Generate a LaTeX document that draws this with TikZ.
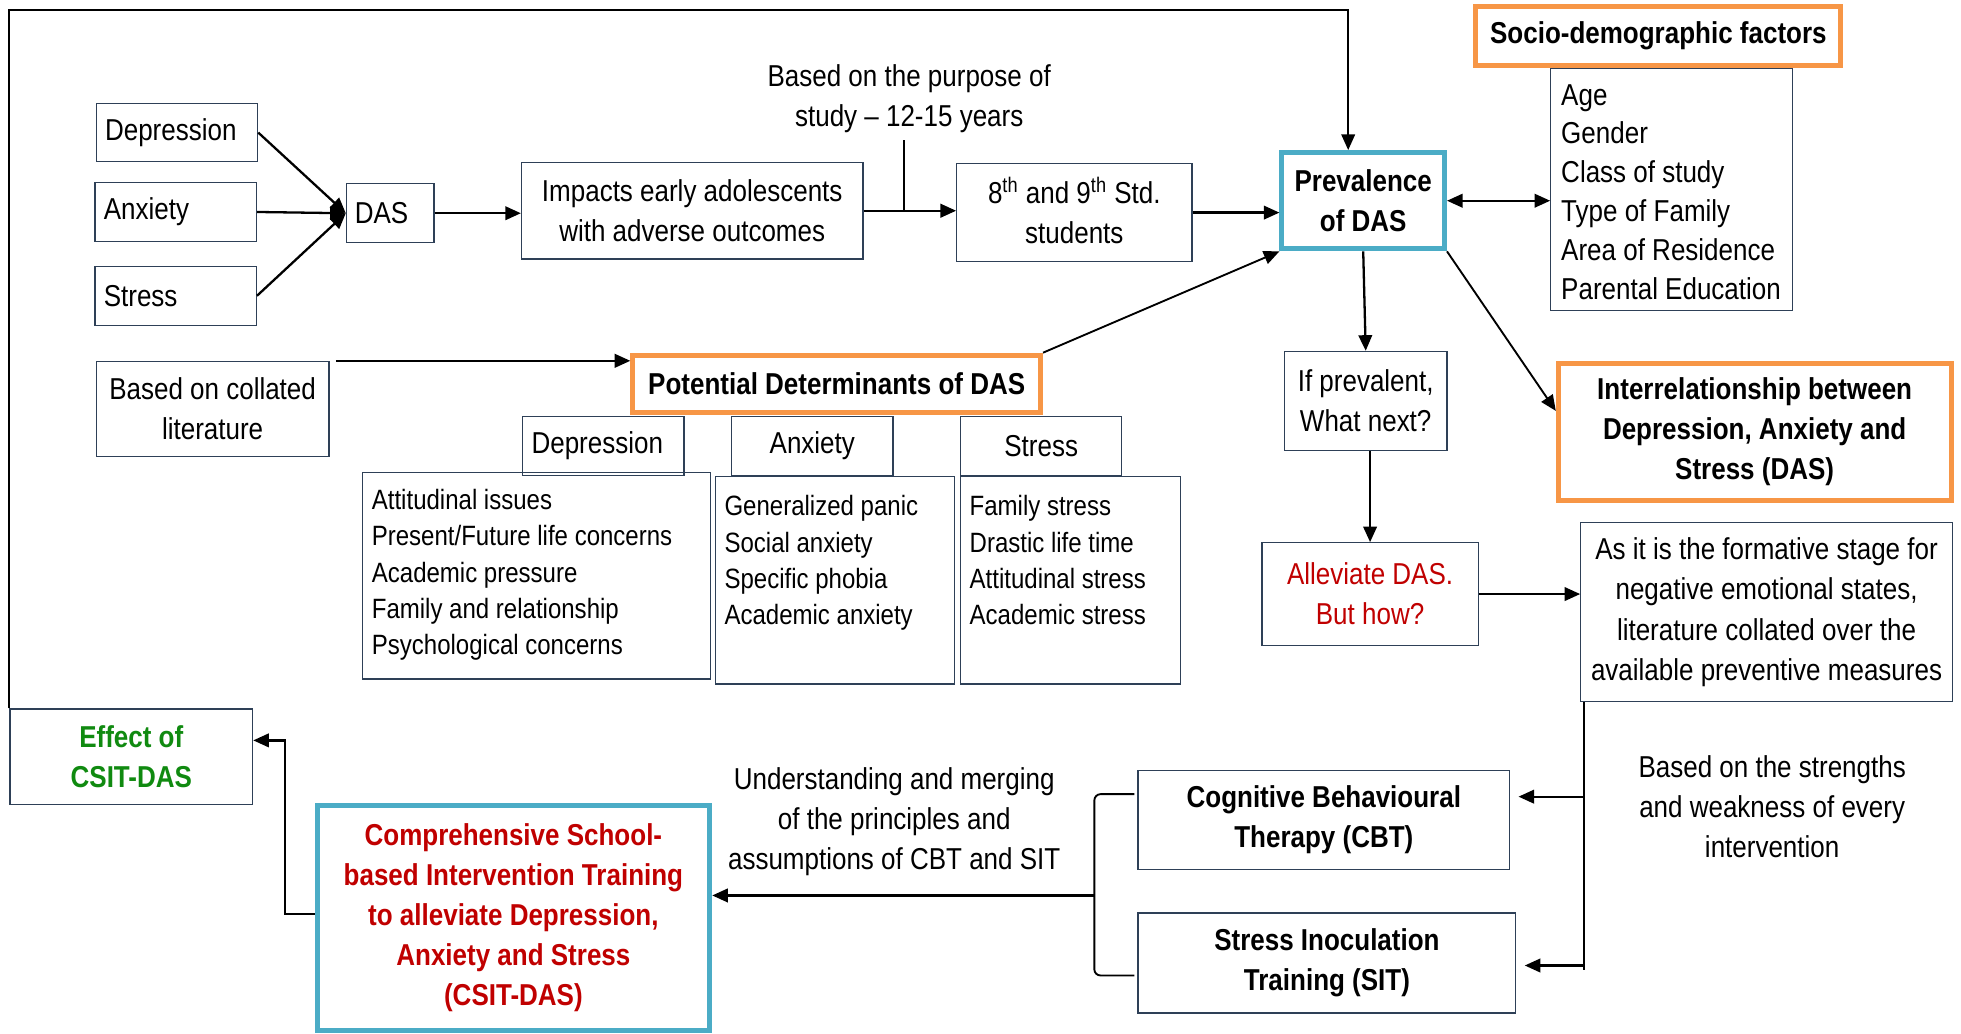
\documentclass[tikz,border=0pt]{standalone}
\usepackage{fontspec}
\setmainfont{Liberation Sans}[FakeStretch=0.86]
\usetikzlibrary{arrows.meta,calc}
\definecolor{edgec}{HTML}{2E4057}
\definecolor{orng}{HTML}{F79646}
\definecolor{blu}{HTML}{4BACC6}
\definecolor{redt}{HTML}{C00000}
\definecolor{grnt}{HTML}{108A10}
\newcommand\myfs{\fontsize{14.5pt}{19.2pt}\selectfont}
\newcommand\listfs{\fontsize{13.4pt}{17.4pt}\selectfont}
\newcommand\supx[1]{\smash{\textsuperscript{#1}}}
\begin{document}
\begin{tikzpicture}[x=0.6pt,y=-0.6pt,
 every node/.style={font=\myfs, inner sep=0pt},
 sz/.style 2 args={minimum width=#1*0.6pt, minimum height=#2*0.6pt},
 box/.style={draw=edgec, line width=0.6pt, align=center},
 obox/.style={draw=orng, line width=2.4pt, align=center, font=\myfs\bfseries},
 bbox/.style={draw=blu, line width=2.4pt, align=center, font=\myfs\bfseries},
 arr/.style={line width=1.1pt, -{Triangle[length=7.5pt,width=6.5pt]}},
 ln/.style={line width=1.1pt},
]
\path[use as bounding box] (0,0) rectangle (1568,826);

% top-left group
\node[box,sz={129}{46},text width=69pt,align=left] (dep) at (141.5,106) {Depression};
\node[box,sz={129}{47},text width=69pt,align=left] (anx) at (140.5,169.5) {Anxiety};
\node[box,sz={129}{47},text width=69pt,align=left] (str) at (140.5,236.5) {Stress};
\node[box,sz={70}{47},text width=34pt,align=left] (das) at (312,170.5) {DAS};
\node[box,sz={273}{77}] (imp) at (553.5,168.5) {Impacts early adolescents\\with adverse outcomes};
\node[align=center] (purp) at (727,79) {Based on the purpose of\\study – 12-15 years};
\node[box,sz={188}{78}] (std) at (859,170) {8\supx{th} and 9\supx{th} Std.\\students};
\node[bbox,sz={130}{77}] (prev) at (1090,160.5) {Prevalence\\of DAS};

% socio-demographic
\node[obox,sz={292}{47}] (soc) at (1326,28.5) {Socio-demographic factors};
\node[box,sz={193}{193}] (socl) at (1336.5,151.5) {};
\node[anchor=north west,align=left,font=\fontsize{14.5pt}{18.7pt}\selectfont] (socitems) at (1248,67) {Age\\Gender\\Class of study\\Type of Family\\Area of Residence\\Parental Education};

\node[obox,sz={314}{109}] (inter) at (1403,345.5) {\rule{0pt}{8pt}Interrelationship between\\Depression, Anxiety and\\Stress (DAS)};
\node[box,sz={130}{79}] (ifp) at (1092,320.5) {If prevalent,\\What next?};
\node[box,sz={173}{82},text=redt] (allev) at (1095.5,475) {Alleviate DAS.\\But how?};
\node[box,sz={297}{143}] (asit) at (1412.5,489.5) {As it is the formative stage for\\negative emotional states,\\literature collated over the\\available preventive measures};
\node[align=center] (strg) at (1417,645) {Based on the strengths\\and weakness of every\\intervention};
\node[box,sz={297}{79},font=\myfs\bfseries] (cbt) at (1058.5,655.5) {Cognitive Behavioural\\Therapy (CBT)};
\node[box,sz={302}{80},font=\myfs\bfseries] (sit) at (1061,770) {Stress Inoculation\\Training (SIT)};
\node[align=center] (und) at (715,657) {Understanding and merging\\of the principles and\\assumptions of CBT and SIT};
\node[bbox,sz={314}{180},text=redt] (comp) at (410.5,734) {Comprehensive School-\\based Intervention Training\\to alleviate Depression,\\Anxiety and Stress\\(CSIT-DAS)};
\node[box,sz={194}{76},font=\myfs\bfseries,text=grnt] (eff) at (105,605) {Effect of\\CSIT-DAS};

% determinants
\node[box,sz={186}{76}] (lit) at (170,327) {Based on collated\\literature};
\node[obox,sz={326}{46}] (pot) at (669,307) {Potential Determinants of DAS};
\node[box,sz={278}{165}] (ldep) at (429,460.5) {};
\node[box,sz={191}{166}] (lanx) at (667.5,464) {};
\node[box,sz={176}{166}] (lstr) at (856,464) {};
\node[box,sz={129}{47},text width=69pt,align=left] (sdep) at (482.5,356.5) {Depression};
\node[box,sz={129}{47}] (sanx) at (649.5,356.5) {Anxiety};
\node[box,sz={129}{47}] (sstr) at (832.5,356.5) {Stress};
\node[anchor=north west,align=left,font=\listfs] (tdep) at (297,391) {Attitudinal issues\\Present/Future life concerns\\Academic pressure\\Family and relationship\\Psychological concerns};
\node[anchor=north west,align=left,font=\listfs] (tanx) at (579,396) {Generalized panic\\Social anxiety\\Specific phobia\\Academic anxiety};
\node[anchor=north west,align=left,font=\listfs] (tstr) at (775,396) {Family stress\\Drastic life time\\Attitudinal stress\\Academic stress};

% connectors
\draw[arr] (dep.east) -- (das.west);
\draw[arr] (anx.east) -- (das.west);
\draw[arr] (str.east) -- (das.west);
\draw[arr] (das.east) -- (das.east -| imp.west);
\draw[arr] (imp.east) -- (imp.east -| std.west);
\coordinate (pt) at (723,112);
\draw[line width=0.8pt] (pt) -- (pt |- imp.east);
\draw[arr] (std.east) -- (std.east -| prev.west);
\coordinate (topc) at (1078,8);
\draw[arr,line width=0.9pt] (eff.north west) |- (topc) -- (topc |- prev.north);
\draw[line width=1.1pt,{Triangle[length=7.5pt,width=6.5pt]}-{Triangle[length=7.5pt,width=6.5pt]}] (prev.east) -- (prev.east -| socl.west);
\draw[arr,line width=0.9pt] (prev.south east) -- ($(inter.north west)!0.35!(inter.south west)$);
\draw[arr] (prev.south) -- (ifp.north);
\draw[arr] (allev.north |- ifp.south) -- (allev.north);
\draw[arr] (allev.east) -- (allev.east -| asit.west);
\coordinate (vt) at ($(asit.south west)+(3,0)$);
\coordinate (vb) at ($(vt)+(0,214)$);
\draw[line width=0.9pt] (vt) -- (vb);
\coordinate (c1) at (1267,637);
\coordinate (c2) at (1267,772);
\draw[arr,shorten >=4pt] (c1) -- (c1 -| cbt.east);
\draw[arr,shorten >=4pt] (c2) -- (c2 -| sit.east);
\coordinate (b1) at (907,635);
\coordinate (b2) at (907,780);
\coordinate (bx) at (875,716);
\draw[line width=0.9pt,rounded corners=3pt] (b1) -| (bx) |- (b2);
\draw[arr] (bx) -- (bx -| comp.east);
\coordinate (lk) at (228,731);
\draw[arr] (comp.west |- lk) -- (lk) |- ([yshift=7.8pt]eff.east);
\draw[arr] ([xshift=3pt]lit.north east) -- (pot.west |- lit.north);
\draw[arr,line width=0.9pt] (pot.north east) -- (prev.south west);
\end{tikzpicture}
\end{document}
